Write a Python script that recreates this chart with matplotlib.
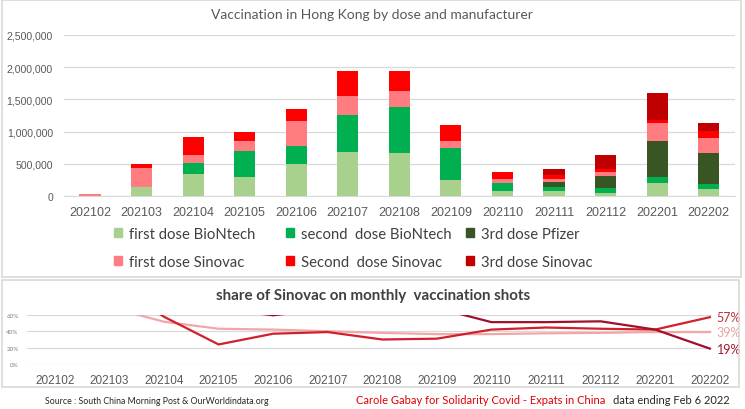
import numpy as np
import matplotlib
matplotlib.use('Agg')
import matplotlib.pyplot as plt
from matplotlib.patches import Rectangle, Patch
import matplotlib.ticker as mticker

plt.rcParams['font.family'] = ['Lato', 'DejaVu Sans']

months = ['202102', '202103', '202104', '202105', '202106', '202107', '202108',
          '202109', '202110', '202111', '202112', '202201', '202202']

# monthly shots
first_biontech = [0, 140000, 345000, 300000, 495000, 680000, 665000, 253000, 82000, 82000, 57000, 206000, 108000]
second_biontech = [0, 0, 176000, 401000, 283000, 583000, 711000, 500000, 129000, 68000, 77000, 93000, 88000]
third_pfizer = [0, 0, 0, 0, 0, 0, 0, 0, 0, 72000, 180000, 557000, 469000]
first_sinovac = [30000, 298000, 118000, 155000, 387000, 289000, 248000, 103000, 52000, 51000, 62000, 273000, 232000]
second_sinovac = [0, 62000, 284000, 144000, 186000, 391000, 319000, 247000, 118000, 50000, 45000, 57000, 118000]
third_sinovac = [0, 0, 0, 0, 0, 0, 0, 0, 0, 95000, 218000, 407000, 114000]

# share of Sinovac lines (values above 60% are cut off in the picture)
share_all = [1.00, 0.69, 0.515, 0.43, 0.42, 0.40, 0.38, 0.365, 0.365, 0.375, 0.38, 0.39, 0.39]
share_second = [np.nan, 1.00, 0.575, 0.24, 0.37, 0.39, 0.30, 0.31, 0.42, 0.445, 0.43, 0.42, 0.57]
share_other = [np.nan, np.nan, np.nan, 0.67, 0.593, 0.67, 0.75, 0.68, 0.51, 0.51, 0.52, 0.42, 0.19]

series = [first_biontech, second_biontech, third_pfizer, first_sinovac, second_sinovac, third_sinovac]
names = ['first dose BioNtech', 'second  dose BioNtech', '3rd dose Pfizer',
         'first dose Sinovac', 'Second  dose Sinovac', '3rd dose Sinovac']
colors = ['#A9D18E', '#00B050', '#375623', '#FF7C80', '#FF0000', '#C00000']

W, H = 745, 410
fig = plt.figure(figsize=(W / 100, H / 100), dpi=100)

# panel frames
fig.add_artist(Rectangle((1.5 / W, (H - 278) / H), 739 / W, 277 / H, transform=fig.transFigure,
                         fill=False, edgecolor='#D9D9D9', lw=1.2))
fig.add_artist(Rectangle((1.5 / W, (H - 388) / H), 737 / W, 107 / H, transform=fig.transFigure,
                         fill=False, edgecolor='#D9D9D9', lw=1.2))

# ---- top chart ----
ax1 = fig.add_axes([64 / W, 212.7 / H, 671 / W, 161.6 / H])
x = np.arange(len(months))
bottom = np.zeros(len(months))
for vals, col in zip(series, colors):
    ax1.bar(x, vals, 0.41, bottom=bottom, color=col, zorder=3)
    bottom = bottom + np.array(vals)

ax1.set_ylim(0, 2500000)
ax1.set_xlim(-0.504, 12.51)
ax1.set_yticks([0, 500000, 1000000, 1500000, 2000000, 2500000])
ax1.yaxis.set_major_formatter(mticker.FuncFormatter(lambda v, p: '{:,}'.format(int(v))))
ax1.set_xticks(x)
ax1.set_xticklabels(months, family='Liberation Sans')
ax1.grid(axis='y', color='#D9D9D9', lw=0.9, zorder=0)
for s in ['top', 'right', 'left']:
    ax1.spines[s].set_visible(False)
ax1.spines['bottom'].set_color('#D9D9D9')
ax1.tick_params(length=0, colors='#595959')
ax1.tick_params(axis='x', labelsize=9, pad=7)
ax1.tick_params(axis='y', labelsize=7.6, pad=8)
for lab in ax1.get_yticklabels():
    lab.set_family('Liberation Sans')

fig.text(372 / W, 1 - 15 / H, 'Vaccination in Hong Kong by dose and manufacturer',
         ha='center', va='center', fontsize=10, color='#595959')

# legend: three columns placed like the original
handles = [Patch(color=c) for c in colors]
for j, xpos in enumerate([114, 286, 466]):
    leg = fig.legend([handles[j], handles[j + 3]], [names[j], names[j + 3]],
                     loc='upper left', bbox_to_anchor=(xpos / W, 1 - 228 / H), frameon=False,
                     fontsize=10.7, handlelength=0.55, handleheight=0.55, handletextpad=0.45,
                     labelspacing=0.95, borderpad=0, borderaxespad=0, labelcolor='#404040')

# ---- bottom chart ----
ax2 = fig.add_axes([27 / W, 44.7 / H, 685 / W, 49.6 / H])
ax2.plot(x, share_all, color='#F2A7A7', lw=1.6, zorder=3)
ax2.plot(x, share_second, color='#D0202E', lw=1.6, zorder=4)
ax2.plot(x, share_other, color='#A0102A', lw=1.6, zorder=4)
ax2.set_ylim(0, 0.6)
ax2.set_xlim(-0.51, 12.04)
ax2.set_yticks([0, 0.2, 0.4, 0.6])
ax2.set_yticklabels(['0%', '20%', '40%', '60%'])
ax2.set_xticks(x)
ax2.set_xticklabels(months, family='Liberation Sans')
ax2.grid(axis='y', color='#D9D9D9', lw=0.9, zorder=0)
for s in ['top', 'right', 'left', 'bottom']:
    ax2.spines[s].set_visible(False)
ax2.tick_params(length=0, colors='#595959')
ax2.tick_params(axis='x', labelsize=8.5, pad=7)
ax2.tick_params(axis='y', labelsize=4.5, pad=6, colors='#7F7F7F')

for vals, col in [(share_second, '#C0303A'), (share_all, '#EBA3A3'), (share_other, '#A3182E')]:
    ax2.annotate('{:.0%}'.format(vals[-1]), (x[-1], vals[-1]), xytext=(5, 0),
                 textcoords='offset points', va='center', ha='left', fontsize=9,
                 color=col, annotation_clip=False)

fig.text(373 / W, 1 - 296 / H, 'share of Sinovac on monthly  vaccination shots',
         ha='center', va='center', fontsize=10.9, fontweight='bold', color='#404040')

fig.text(157 / W, 1 - 402 / H, 'Source : South China Morning Post & OurWorldindata.org',
         ha='center', va='center', fontsize=6.3, color='#262626')
fig.text(356 / W, 1 - 401 / H, 'Carole Gabay for Solidarity Covid - Expats in China',
         ha='left', va='center', fontsize=8, color='#E00000')
fig.text(613 / W, 1 - 401 / H, 'data ending Feb 6 2022',
         ha='left', va='center', fontsize=8, color='#262626')

fig.savefig('out.png', dpi=100)
